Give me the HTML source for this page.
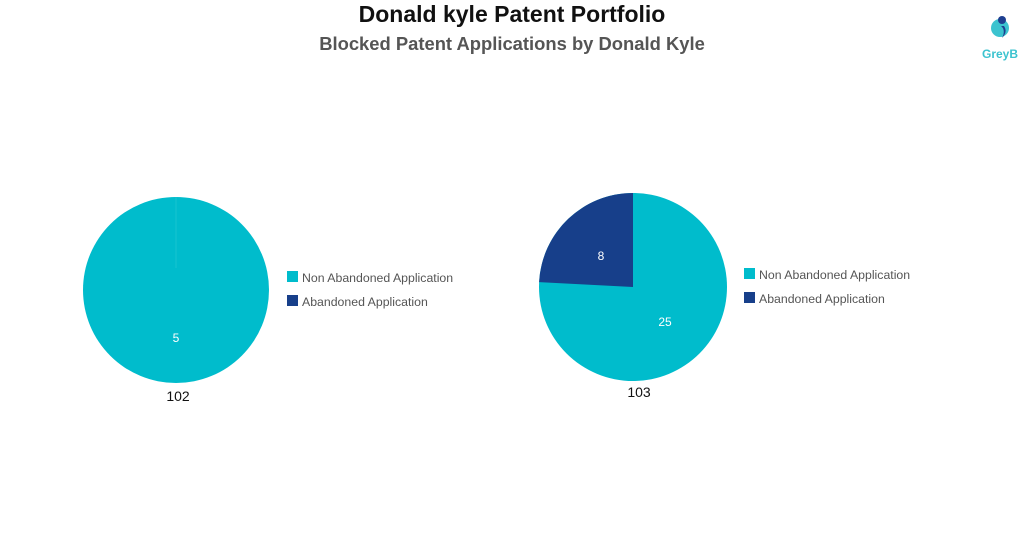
<!DOCTYPE html>
<html><head><style>
body{margin:0;width:1024px;height:546px;background:#fff;font-family:"Liberation Sans",sans-serif;overflow:hidden;position:relative}
.t{position:absolute;left:0;width:1024px;text-align:center}
</style></head><body>
<div class="t" style="top:1px;font-size:23px;font-weight:bold;color:#111">Donald kyle Patent Portfolio</div>
<div class="t" style="top:33px;font-size:18.4px;font-weight:bold;color:#555">Blocked Patent Applications by Donald Kyle</div>
<svg width="1024" height="546" style="position:absolute;left:0;top:0">
<g transform="translate(990,12)">
<circle cx="10" cy="16" r="9" fill="#3cc3cf"/>
<circle cx="12" cy="8" r="4" fill="#1e3f90"/>
<path d="M14 14 Q18 20 12 26 Q16 18 11 14Z" fill="#1e3f90"/>
<text x="10" y="46" font-size="12" font-weight="bold" fill="#3cc3cf" text-anchor="middle">GreyB</text>
</g>
<circle cx="176" cy="290" r="93" fill="#00BCCC"/>
<line x1="176" y1="197" x2="176" y2="268" stroke="#19c4d0" stroke-width="1"/>
<text x="176" y="342" font-size="12" fill="#fff" text-anchor="middle">5</text>
<text x="178" y="401" font-size="14" fill="#111" text-anchor="middle">102</text>
<circle cx="633" cy="287" r="94" fill="#00BCCC"/>
<path d="M633 287 L633 193 A94 94 0 0 0 539.1 282.1 Z" fill="#173F8A"/>
<text x="601" y="260" font-size="12" fill="#fff" text-anchor="middle">8</text>
<text x="665" y="326" font-size="12" fill="#fff" text-anchor="middle">25</text>
<text x="639" y="397" font-size="14" fill="#111" text-anchor="middle">103</text>
<g font-size="12.3" fill="#555">
<rect x="287" y="271" width="11" height="11" fill="#00BCCC"/><text x="302" y="282">Non Abandoned Application</text>
<rect x="287" y="295" width="11" height="11" fill="#173F8A"/><text x="302" y="306">Abandoned Application</text>
<rect x="744" y="268" width="11" height="11" fill="#00BCCC"/><text x="759" y="279">Non Abandoned Application</text>
<rect x="744" y="292" width="11" height="11" fill="#173F8A"/><text x="759" y="303">Abandoned Application</text>
</g>
</svg>
</body></html>
